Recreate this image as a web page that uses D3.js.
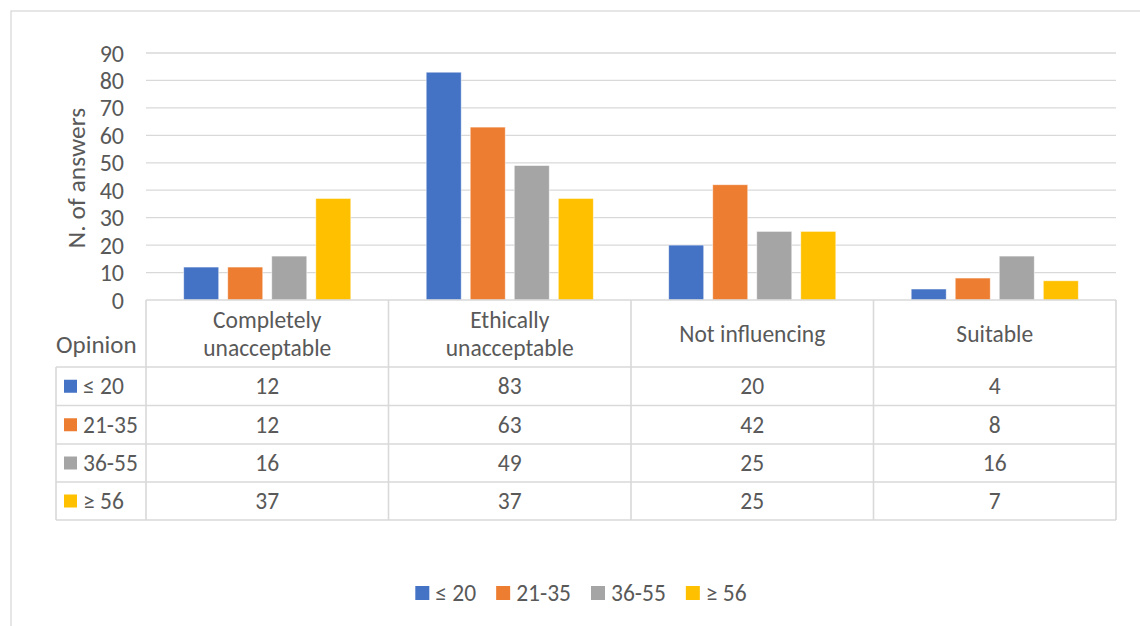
<!DOCTYPE html>
<html>
<head>
<meta charset="utf-8">
<script src="https://cdn.jsdelivr.net/npm/d3@7"></script>
<style>
  html, body { margin: 0; padding: 0; background: #fff; }
  svg { display: block; }
  text { font-family: Carlito, Calibri, Lato, "Liberation Sans", sans-serif; fill: #595959; }
</style>
</head>
<body>
<svg id="chart" width="1140" height="626"></svg>
<script>
// Opinion categories (table columns / x axis)
const categories = [
  ["Completely", "unacceptable"],
  ["Ethically", "unacceptable"],
  ["Not influencing"],
  ["Suitable"]
];
const categoryKeys = ["Completely unacceptable", "Ethically unacceptable", "Not influencing", "Suitable"];

// Age groups (series)
const seriesNames = ["≤ 20", "21-35", "36-55", "≥ 56"];
const seriesColors = ["#4472C4", "#ED7D31", "#A5A5A5", "#FFC000"];

// Number of answers per age group, in category order
const ageUpTo20 = [12, 83, 20, 4];
const age21to35 = [12, 63, 42, 8];
const age36to55 = [16, 49, 25, 16];
const age56plus = [37, 37, 25, 7];
const seriesValues = [ageUpTo20, age21to35, age36to55, age56plus];

const yTicks = [0, 10, 20, 30, 40, 50, 60, 70, 80, 90];

const svg = d3.select("#chart");
const gridColor = "#d9d9d9";

// Chart area frame (extends past the right and bottom of the view)
svg.append("rect")
  .attr("x", 11).attr("y", 11)
  .attr("width", 1160).attr("height", 640)
  .attr("fill", "none").attr("stroke", gridColor).attr("stroke-width", 1.3);

const plotLeft = 146, plotRight = 1116;
const y = d3.scaleLinear().domain([0, 90]).range([300, 53]);
const x = d3.scaleBand().domain(categoryKeys).range([plotLeft, plotRight]).padding(0);
const xInner = d3.scaleBand().domain(seriesNames)
  .range([37.7, x.bandwidth() - 37.7]).paddingInner(0.205).paddingOuter(0);

// Horizontal gridlines
svg.append("g").selectAll("line").data(yTicks.filter(d => d > 0)).join("line")
  .attr("x1", plotLeft).attr("x2", plotRight)
  .attr("y1", d => y(d)).attr("y2", d => y(d))
  .attr("stroke", gridColor).attr("stroke-width", 1.3);

// Y axis tick labels
svg.append("g").selectAll("text").data(yTicks).join("text")
  .attr("x", 124).attr("y", d => y(d))
  .attr("text-anchor", "end").attr("dominant-baseline", "central")
  .attr("font-size", 24)
  .text(d => d);

// Y axis title
svg.append("text")
  .attr("transform", "translate(76,178) rotate(-90)")
  .attr("text-anchor", "middle").attr("dominant-baseline", "central")
  .attr("font-size", 25.5)
  .text("N. of answers");

// Bars
const barGroups = svg.append("g").selectAll("g").data(seriesNames).join("g")
  .attr("fill", (d, i) => seriesColors[i]);
barGroups.selectAll("rect")
  .data((s, i) => seriesValues[i].map((v, j) => ({ s, v, c: categoryKeys[j] })))
  .join("rect")
  .attr("x", d => x(d.c) + xInner(d.s))
  .attr("y", d => y(d.v))
  .attr("width", xInner.bandwidth())
  .attr("height", d => y(0) - y(d.v))
  .attr("stroke", "#fff").attr("stroke-width", 0.8).attr("stroke-opacity", 0.6);

// Data table below the plot
const rowLines = [300, 367, 405.5, 444, 482, 520];
const table = svg.append("g").attr("stroke", gridColor).attr("stroke-width", 1.6).attr("fill", "none");
// header row box
table.append("line").attr("x1", plotLeft).attr("x2", plotRight).attr("y1", 300).attr("y2", 300);
// horizontal row lines
rowLines.slice(1).forEach(ly => {
  table.append("line").attr("x1", 56).attr("x2", plotRight).attr("y1", ly).attr("y2", ly);
});
// vertical column lines
const colEdges = categoryKeys.map(c => x(c)).concat([plotRight]);
colEdges.forEach(cx => {
  table.append("line").attr("x1", cx).attr("x2", cx).attr("y1", 300).attr("y2", 520);
});
table.append("line").attr("x1", 56).attr("x2", 56).attr("y1", 367).attr("y2", 520);

// Header labels
svg.append("text").attr("x", 56).attr("y", 344)
  .attr("dominant-baseline", "central").attr("font-size", 25).text("Opinion");
categories.forEach((lines, j) => {
  const cx = x(categoryKeys[j]) + x.bandwidth() / 2;
  const cy = 334;
  const lh = 27.5;
  lines.forEach((t, k) => {
    svg.append("text")
      .attr("x", cx).attr("y", cy + (k - (lines.length - 1) / 2) * lh)
      .attr("text-anchor", "middle").attr("dominant-baseline", "central")
      .attr("font-size", 23.5).text(t);
  });
});

// Row labels with colour keys, and values
seriesNames.forEach((s, i) => {
  const top = rowLines[i + 1], bottom = rowLines[i + 2];
  const cy = (top + bottom) / 2;
  svg.append("rect").attr("x", 64).attr("y", cy - 6.5).attr("width", 13).attr("height", 13)
    .attr("fill", seriesColors[i]);
  svg.append("text").attr("x", 83).attr("y", cy)
    .attr("dominant-baseline", "central").attr("font-size", 23.5).text(s);
  seriesValues[i].forEach((v, j) => {
    svg.append("text")
      .attr("x", x(categoryKeys[j]) + x.bandwidth() / 2).attr("y", cy)
      .attr("text-anchor", "middle").attr("dominant-baseline", "central")
      .attr("font-size", 23.5).text(v);
  });
});

// Bottom legend
const legend = svg.append("g");
const legendY = 593;
let lx = 0;
seriesNames.forEach((s, i) => {
  const g = legend.append("g");
  g.append("rect").attr("x", 0).attr("y", legendY - 7).attr("width", 14).attr("height", 14)
    .attr("fill", seriesColors[i]);
  const t = g.append("text").attr("x", 20).attr("y", legendY)
    .attr("dominant-baseline", "central").attr("font-size", 23.5).text(s);
  const w = 20 + t.node().getComputedTextLength();
  g.attr("transform", `translate(${lx},0)`);
  lx += w + 20;
});
const legendWidth = lx - 20;
legend.attr("transform", `translate(${(417 + 745) / 2 - legendWidth / 2},0)`);
</script>
</body>
</html>
